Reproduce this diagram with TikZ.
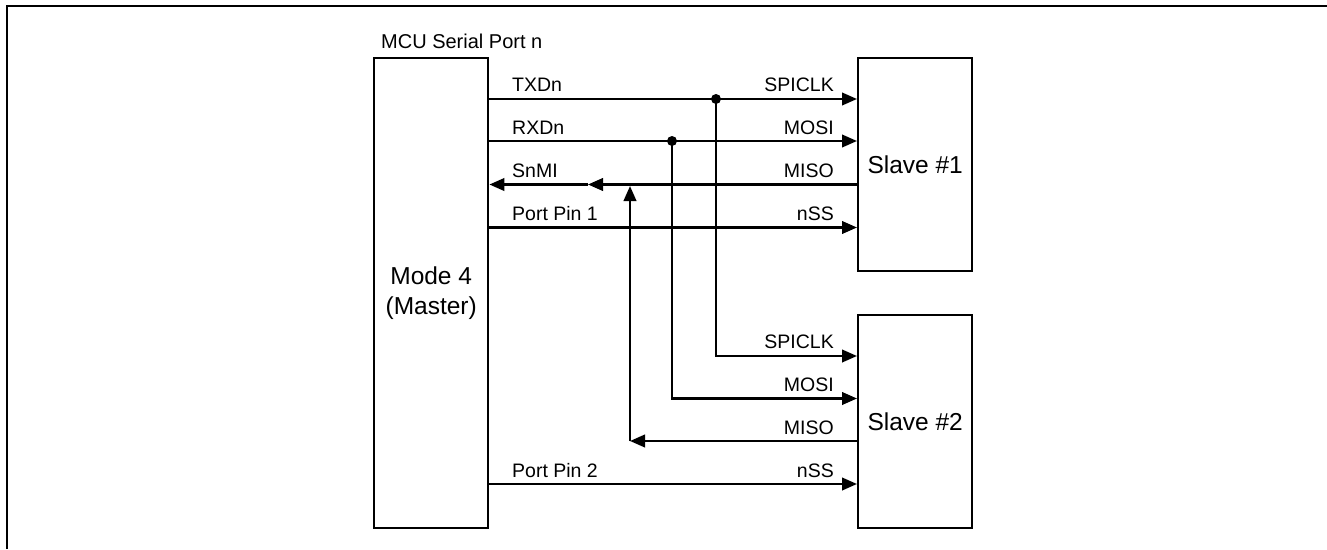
\documentclass[tikz,border=0pt]{standalone}
\usepackage{fontspec}
\setmainfont{Liberation Sans}
\usetikzlibrary{arrows.meta}
\begin{document}
\begin{tikzpicture}[x=1pt,y=-1pt,line width=2.4pt,
  box/.style={draw,line width=2.4pt,inner sep=0pt,anchor=north west,minimum width=114pt,align=center,font=\fontsize{24.5}{30}\selectfont},
  lbl/.style={font=\fontsize{19.5}{24}\selectfont,inner sep=0pt,anchor=base west},
  rlbl/.style={lbl,anchor=base east},
  sig/.style={-{Triangle[length=15pt,width=12.5pt]}},
  jdot/.style={circle,fill,inner sep=0pt,minimum size=10pt}]
\useasboundingbox (0,0) rectangle (1327,549);
\draw[line width=2pt] (7,549) -- (7,6) -- (1327,6);
% boxes
\node[box,minimum height=470pt] (m) at (373,57) {Mode 4\\(Master)};
\node[box,minimum height=213pt] (s1) at (857,57) {Slave \#1};
\node[box,minimum height=213pt] (s2) at (857,314) {Slave \#2};
\node[lbl,font=\fontsize{20}{24}\selectfont] (title) at (380,48) {MCU Serial Port n};
% signal rows
\coordinate (y1) at (0,99);
\coordinate (y2) at (0,141);
\coordinate (y3) at (0,184.5);
\coordinate (y4) at (0,227.5);
\coordinate (y5) at (0,356);
\coordinate (y6) at (0,398.5);
\coordinate (y7) at (0,441);
\coordinate (y8) at (0,484);
% junctions
\node[jdot] (d1) at (716,99) {};
\node[jdot] (d2) at (672,141) {};
\coordinate (mid) at (588,184.5);
\coordinate (up) at (630,186);
\coordinate (c7) at (630,441);
% slave 1 connections
\draw[sig] (m.east|-y1) -- (s1.west|-y1);
\draw[sig] (m.east|-y2) -- (s1.west|-y2);
\draw[sig] (s1.west|-y3) -- (mid);
\draw[sig] (mid) -- (m.east|-y3);
\draw[sig] (m.east|-y4) -- (s1.west|-y4);
% slave 2 connections
\draw[sig] (d1.center) |- (s2.west|-y5);
\draw[sig] (d2.center) |- (s2.west|-y6);
\draw[sig] (s2.west|-y7) -- (c7);
\draw[sig] (c7) -- (up);
\draw[sig] (m.east|-y8) -- (s2.west|-y8);
% labels
\node[lbl] (l1) at (511,91.5) {TXDn};
\node[lbl] (l2) at (511,134) {RXDn};
\node[lbl] (l3) at (511,177) {SnMI};
\node[lbl] (l4) at (511,220) {Port Pin 1};
\node[lbl] (l8) at (511,477) {Port Pin 2};
\node[rlbl] (r1) at (835,91.5) {SPICLK};
\node[rlbl] (r2) at (835,134) {MOSI};
\node[rlbl] (r3) at (835,177) {MISO};
\node[rlbl] (r4) at (835,220) {nSS};
\node[rlbl] (r5) at (835,348.5) {SPICLK};
\node[rlbl] (r6) at (835,391) {MOSI};
\node[rlbl] (r7) at (835,434) {MISO};
\node[rlbl] (r8) at (835,477) {nSS};
\end{tikzpicture}
\end{document}
